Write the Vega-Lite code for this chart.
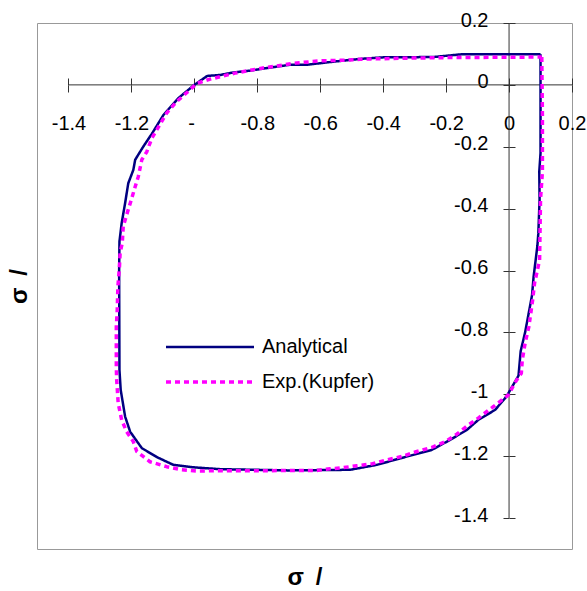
{
  "$schema": "https://vega.github.io/schema/vega-lite/v6.json",
  "width": 535,
  "height": 526,
  "autosize": {"type": "none"},
  "padding": {"left": 37, "top": 23, "right": 15, "bottom": 42},
  "background": "white",
  "config": {
    "font": "Liberation Sans",
    "view": {"stroke": "#999999", "strokeWidth": 1},
    "axis": {"grid": false, "domain": false, "tickColor": "#333333", "tickWidth": 1, "labelFont": "Liberation Sans", "labelFontSize": 20, "labelColor": "#000000", "titleFont": "Liberation Sans", "titleColor": "#000000", "labelFlush": false, "labelOverlap": false, "labelBound": false},
    "legend": {"labelFont": "Liberation Sans", "labelFontSize": 20, "labelColor": "#000000", "padding": 0}
  },
  "datasets": {
    "curves": [
      {"series": "Analytical", "i": 0, "x": 0.100, "y": 0.099},
      {"series": "Analytical", "i": 1, "x": 0.100, "y": -0.22},
      {"series": "Analytical", "i": 2, "x": 0.096, "y": -0.28},
      {"series": "Analytical", "i": 3, "x": 0.097, "y": -0.37},
      {"series": "Analytical", "i": 4, "x": 0.093, "y": -0.48},
      {"series": "Analytical", "i": 5, "x": 0.090, "y": -0.52},
      {"series": "Analytical", "i": 6, "x": 0.078, "y": -0.62},
      {"series": "Analytical", "i": 7, "x": 0.073, "y": -0.68},
      {"series": "Analytical", "i": 8, "x": 0.051, "y": -0.80},
      {"series": "Analytical", "i": 9, "x": 0.037, "y": -0.86},
      {"series": "Analytical", "i": 10, "x": 0.030, "y": -0.94},
      {"series": "Analytical", "i": 11, "x": 0.010, "y": -0.975},
      {"series": "Analytical", "i": 12, "x": -0.008, "y": -1.007},
      {"series": "Analytical", "i": 13, "x": -0.044, "y": -1.050},
      {"series": "Analytical", "i": 14, "x": -0.098, "y": -1.083},
      {"series": "Analytical", "i": 15, "x": -0.134, "y": -1.115},
      {"series": "Analytical", "i": 16, "x": -0.187, "y": -1.147},
      {"series": "Analytical", "i": 17, "x": -0.246, "y": -1.180},
      {"series": "Analytical", "i": 18, "x": -0.346, "y": -1.207},
      {"series": "Analytical", "i": 19, "x": -0.420, "y": -1.228},
      {"series": "Analytical", "i": 20, "x": -0.505, "y": -1.244},
      {"series": "Analytical", "i": 21, "x": -0.700, "y": -1.246},
      {"series": "Analytical", "i": 22, "x": -0.918, "y": -1.242},
      {"series": "Analytical", "i": 23, "x": -1.003, "y": -1.236},
      {"series": "Analytical", "i": 24, "x": -1.067, "y": -1.228},
      {"series": "Analytical", "i": 25, "x": -1.119, "y": -1.203},
      {"series": "Analytical", "i": 26, "x": -1.167, "y": -1.174},
      {"series": "Analytical", "i": 27, "x": -1.204, "y": -1.121},
      {"series": "Analytical", "i": 28, "x": -1.220, "y": -1.072},
      {"series": "Analytical", "i": 29, "x": -1.234, "y": -0.986},
      {"series": "Analytical", "i": 30, "x": -1.238, "y": -0.921},
      {"series": "Analytical", "i": 31, "x": -1.239, "y": -0.598},
      {"series": "Analytical", "i": 32, "x": -1.238, "y": -0.506},
      {"series": "Analytical", "i": 33, "x": -1.231, "y": -0.447},
      {"series": "Analytical", "i": 34, "x": -1.220, "y": -0.382},
      {"series": "Analytical", "i": 35, "x": -1.210, "y": -0.318},
      {"series": "Analytical", "i": 36, "x": -1.194, "y": -0.275},
      {"series": "Analytical", "i": 37, "x": -1.188, "y": -0.242},
      {"series": "Analytical", "i": 38, "x": -1.162, "y": -0.199},
      {"series": "Analytical", "i": 39, "x": -1.135, "y": -0.158},
      {"series": "Analytical", "i": 40, "x": -1.098, "y": -0.097},
      {"series": "Analytical", "i": 41, "x": -1.051, "y": -0.043},
      {"series": "Analytical", "i": 42, "x": -1.000, "y": 0.000},
      {"series": "Analytical", "i": 43, "x": -0.959, "y": 0.029},
      {"series": "Analytical", "i": 44, "x": -0.918, "y": 0.032},
      {"series": "Analytical", "i": 45, "x": -0.877, "y": 0.040},
      {"series": "Analytical", "i": 46, "x": -0.823, "y": 0.046},
      {"series": "Analytical", "i": 47, "x": -0.759, "y": 0.056},
      {"series": "Analytical", "i": 48, "x": -0.696, "y": 0.065},
      {"series": "Analytical", "i": 49, "x": -0.643, "y": 0.065},
      {"series": "Analytical", "i": 50, "x": -0.558, "y": 0.075},
      {"series": "Analytical", "i": 51, "x": -0.473, "y": 0.084},
      {"series": "Analytical", "i": 52, "x": -0.400, "y": 0.089},
      {"series": "Analytical", "i": 53, "x": -0.240, "y": 0.090},
      {"series": "Analytical", "i": 54, "x": -0.150, "y": 0.099},
      {"series": "Analytical", "i": 55, "x": 0.100, "y": 0.099},
      {"series": "Exp.(Kupfer)", "i": 0, "x": 0.104, "y": 0.090},
      {"series": "Exp.(Kupfer)", "i": 1, "x": 0.106, "y": -0.10},
      {"series": "Exp.(Kupfer)", "i": 2, "x": 0.106, "y": -0.28},
      {"series": "Exp.(Kupfer)", "i": 3, "x": 0.100, "y": -0.37},
      {"series": "Exp.(Kupfer)", "i": 4, "x": 0.097, "y": -0.566},
      {"series": "Exp.(Kupfer)", "i": 5, "x": 0.081, "y": -0.641},
      {"series": "Exp.(Kupfer)", "i": 6, "x": 0.075, "y": -0.695},
      {"series": "Exp.(Kupfer)", "i": 7, "x": 0.063, "y": -0.781},
      {"series": "Exp.(Kupfer)", "i": 8, "x": 0.051, "y": -0.835},
      {"series": "Exp.(Kupfer)", "i": 9, "x": 0.042, "y": -0.889},
      {"series": "Exp.(Kupfer)", "i": 10, "x": 0.039, "y": -0.932},
      {"series": "Exp.(Kupfer)", "i": 11, "x": 0.021, "y": -0.959},
      {"series": "Exp.(Kupfer)", "i": 12, "x": -0.002, "y": -1.002},
      {"series": "Exp.(Kupfer)", "i": 13, "x": -0.050, "y": -1.040},
      {"series": "Exp.(Kupfer)", "i": 14, "x": -0.098, "y": -1.077},
      {"series": "Exp.(Kupfer)", "i": 15, "x": -0.129, "y": -1.099},
      {"series": "Exp.(Kupfer)", "i": 16, "x": -0.166, "y": -1.129},
      {"series": "Exp.(Kupfer)", "i": 17, "x": -0.203, "y": -1.153},
      {"series": "Exp.(Kupfer)", "i": 18, "x": -0.246, "y": -1.172},
      {"series": "Exp.(Kupfer)", "i": 19, "x": -0.293, "y": -1.185},
      {"series": "Exp.(Kupfer)", "i": 20, "x": -0.341, "y": -1.201},
      {"series": "Exp.(Kupfer)", "i": 21, "x": -0.389, "y": -1.212},
      {"series": "Exp.(Kupfer)", "i": 22, "x": -0.436, "y": -1.225},
      {"series": "Exp.(Kupfer)", "i": 23, "x": -0.484, "y": -1.231},
      {"series": "Exp.(Kupfer)", "i": 24, "x": -0.527, "y": -1.237},
      {"series": "Exp.(Kupfer)", "i": 25, "x": -0.569, "y": -1.241},
      {"series": "Exp.(Kupfer)", "i": 26, "x": -0.611, "y": -1.246},
      {"series": "Exp.(Kupfer)", "i": 27, "x": -0.800, "y": -1.247},
      {"series": "Exp.(Kupfer)", "i": 28, "x": -0.940, "y": -1.247},
      {"series": "Exp.(Kupfer)", "i": 29, "x": -0.992, "y": -1.248},
      {"series": "Exp.(Kupfer)", "i": 30, "x": -1.040, "y": -1.244},
      {"series": "Exp.(Kupfer)", "i": 31, "x": -1.088, "y": -1.234},
      {"series": "Exp.(Kupfer)", "i": 32, "x": -1.141, "y": -1.218},
      {"series": "Exp.(Kupfer)", "i": 33, "x": -1.183, "y": -1.185},
      {"series": "Exp.(Kupfer)", "i": 34, "x": -1.194, "y": -1.153},
      {"series": "Exp.(Kupfer)", "i": 35, "x": -1.215, "y": -1.121},
      {"series": "Exp.(Kupfer)", "i": 36, "x": -1.231, "y": -1.083},
      {"series": "Exp.(Kupfer)", "i": 37, "x": -1.242, "y": -1.029},
      {"series": "Exp.(Kupfer)", "i": 38, "x": -1.247, "y": -0.950},
      {"series": "Exp.(Kupfer)", "i": 39, "x": -1.248, "y": -0.910},
      {"series": "Exp.(Kupfer)", "i": 40, "x": -1.248, "y": -0.781},
      {"series": "Exp.(Kupfer)", "i": 41, "x": -1.245, "y": -0.727},
      {"series": "Exp.(Kupfer)", "i": 42, "x": -1.243, "y": -0.652},
      {"series": "Exp.(Kupfer)", "i": 43, "x": -1.238, "y": -0.589},
      {"series": "Exp.(Kupfer)", "i": 44, "x": -1.236, "y": -0.544},
      {"series": "Exp.(Kupfer)", "i": 45, "x": -1.229, "y": -0.510},
      {"series": "Exp.(Kupfer)", "i": 46, "x": -1.226, "y": -0.458},
      {"series": "Exp.(Kupfer)", "i": 47, "x": -1.217, "y": -0.426},
      {"series": "Exp.(Kupfer)", "i": 48, "x": -1.202, "y": -0.377},
      {"series": "Exp.(Kupfer)", "i": 49, "x": -1.191, "y": -0.339},
      {"series": "Exp.(Kupfer)", "i": 50, "x": -1.178, "y": -0.296},
      {"series": "Exp.(Kupfer)", "i": 51, "x": -1.167, "y": -0.242},
      {"series": "Exp.(Kupfer)", "i": 52, "x": -1.151, "y": -0.216},
      {"series": "Exp.(Kupfer)", "i": 53, "x": -1.135, "y": -0.172},
      {"series": "Exp.(Kupfer)", "i": 54, "x": -1.118, "y": -0.143},
      {"series": "Exp.(Kupfer)", "i": 55, "x": -1.088, "y": -0.091},
      {"series": "Exp.(Kupfer)", "i": 56, "x": -1.056, "y": -0.054},
      {"series": "Exp.(Kupfer)", "i": 57, "x": -1.014, "y": -0.016},
      {"series": "Exp.(Kupfer)", "i": 58, "x": -0.992, "y": 0.005},
      {"series": "Exp.(Kupfer)", "i": 59, "x": -0.952, "y": 0.018},
      {"series": "Exp.(Kupfer)", "i": 60, "x": -0.871, "y": 0.038},
      {"series": "Exp.(Kupfer)", "i": 61, "x": -0.786, "y": 0.054},
      {"series": "Exp.(Kupfer)", "i": 62, "x": -0.738, "y": 0.061},
      {"series": "Exp.(Kupfer)", "i": 63, "x": -0.685, "y": 0.070},
      {"series": "Exp.(Kupfer)", "i": 64, "x": -0.595, "y": 0.078},
      {"series": "Exp.(Kupfer)", "i": 65, "x": -0.516, "y": 0.080},
      {"series": "Exp.(Kupfer)", "i": 66, "x": -0.473, "y": 0.083},
      {"series": "Exp.(Kupfer)", "i": 67, "x": -0.346, "y": 0.086},
      {"series": "Exp.(Kupfer)", "i": 68, "x": -0.219, "y": 0.088},
      {"series": "Exp.(Kupfer)", "i": 69, "x": 0.099, "y": 0.090},
      {"series": "Exp.(Kupfer)", "i": 70, "x": 0.104, "y": 0.090}
    ]
  },
  "resolve": {"scale": {"x": "independent", "y": "independent"}},
  "layer": [
    {
      "data": {"values": [
        {"x1": -1.4, "x2": 0.2, "y1": 0, "y2": 0},
        {"x1": 0, "x2": 0, "y1": -1.4, "y2": 0.2}
      ]},
      "mark": {"type": "rule", "color": "#333333", "strokeWidth": 1},
      "encoding": {
        "x": {"field": "x1", "type": "quantitative",
          "scale": {"domain": [-1.5, 0.2], "nice": false, "zero": false},
          "axis": {"orient": "bottom", "offset": -464, "values": [-1.4, -1.2, -1, -0.8, -0.6, -0.4, -0.2, 0, 0.2],
            "tickSize": 7, "labelPadding": 21,
            "labelAlign": {"condition": {"test": "datum.value == -1", "value": "right"}, "value": "center"},
            "labelExpr": "datum.value == -1 ? '-' : (datum.value < 0 ? '-' : '') + format(abs(datum.value), '.1~f')",
            "title": "σ\u2002/", "titleFontSize": 24, "titleFontWeight": "bold", "titleY": 499, "titleBaseline": "alphabetic"}},
        "x2": {"field": "x2"},
        "y": {"field": "y1", "type": "quantitative",
          "scale": {"domain": [-1.5, 0.2], "nice": false, "zero": false},
          "axis": {"orient": "left", "offset": -472, "values": [-1.4, -1.2, -1, -0.8, -0.6, -0.4, -0.2, 0, 0.2],
            "tickSize": 6, "labelPadding": 15, "labelOffset": -3, "labelAlign": "right", "labelBaseline": "middle",
            "labelExpr": "(datum.value < 0 ? '-' : '') + format(abs(datum.value), '.1~f')",
            "title": "σ\u2002/", "titleFontSize": 24, "titleFontWeight": "bold", "titleX": -483, "titleBaseline": "alphabetic", "titleAngle": -90}},
        "y2": {"field": "y2"}
      }
    },
    {
      "data": {"name": "curves"},
      "mark": {"type": "line", "strokeJoin": "round"},
      "encoding": {
        "x": {"field": "x", "type": "quantitative",
          "scale": {"domain": [-1.5, 0.2], "nice": false, "zero": false},
          "axis": {"orient": "top", "offset": -62, "values": [-1.4, -1.2, -1, -0.8, -0.6, -0.4, -0.2, 0, 0.2], "tickSize": 7, "labels": false, "title": null}},
        "y": {"field": "y", "type": "quantitative",
          "scale": {"domain": [-1.5, 0.2], "nice": false, "zero": false},
          "axis": {"orient": "right", "offset": -63, "values": [-1.4, -1.2, -1, -0.8, -0.6, -0.4, -0.2, 0, 0.2], "tickSize": 6, "labels": false, "title": null}},
        "order": {"field": "i", "type": "quantitative"},
        "color": {"field": "series", "type": "nominal",
          "scale": {"domain": ["Analytical", "Exp.(Kupfer)"], "range": ["#000080", "#FF00FF"]},
          "legend": {"orient": "none", "legendX": 119, "legendY": 314, "title": null, "symbolType": "M0,0H22", "symbolSize": 64, "symbolStrokeWidth": 3, "labelOffset": 86, "rowPadding": 15}},
        "strokeDash": {"field": "series", "type": "nominal",
          "scale": {"domain": ["Analytical", "Exp.(Kupfer)"], "range": [[1, 0], [5, 4]]},
          "legend": {"orient": "none", "legendX": 119, "legendY": 314, "title": null, "symbolType": "M0,0H22", "symbolSize": 64, "symbolStrokeWidth": 3, "labelOffset": 86, "rowPadding": 15}},
        "strokeWidth": {"field": "series", "type": "nominal",
          "scale": {"domain": ["Analytical", "Exp.(Kupfer)"], "range": [2.5, 3.5]},
          "legend": null}
      }
    }
  ]
}
